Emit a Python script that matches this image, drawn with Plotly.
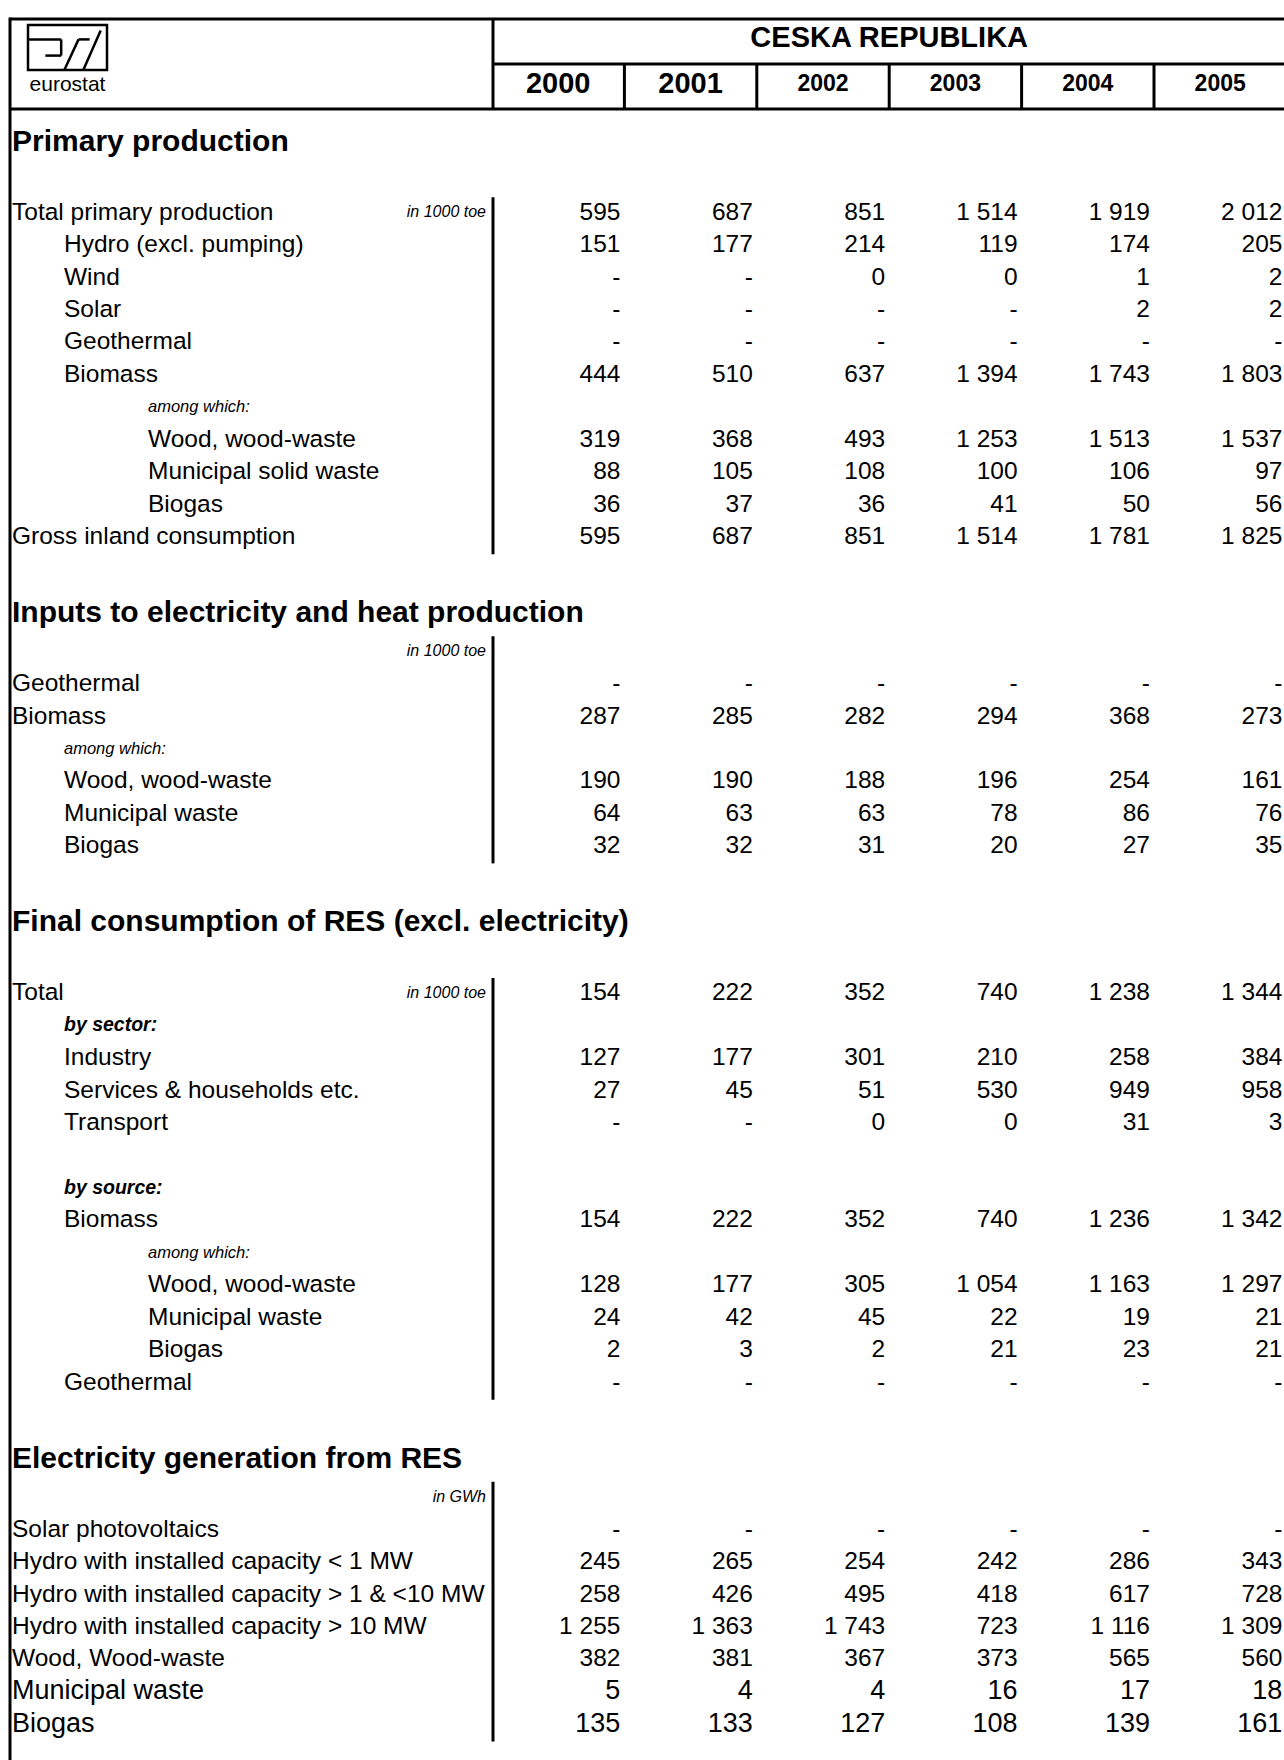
import plotly.graph_objects as go

# ------------------------------------------------------------------ data
COUNTRY = "CESKA REPUBLIKA"
YEARS = ["2000", "2001", "2002", "2003", "2004", "2005"]
LOGO_TEXT = "eurostat"

TITLE_PRIMARY = "Primary production"
TITLE_INPUTS = "Inputs to electricity and heat production"
TITLE_FINAL = "Final consumption of RES (excl. electricity)"
TITLE_ELEC = "Electricity generation from RES"
UNIT_TOE = "in 1000 toe"
UNIT_GWH = "in GWh"
AMONG = "among which:"
BY_SECTOR = "by sector:"
BY_SOURCE = "by source:"

NA = None  # shown as "-"

PRIMARY_LABELS = [
    "Total primary production", "Hydro (excl. pumping)", "Wind", "Solar",
    "Geothermal", "Biomass", AMONG, "Wood, wood-waste",
    "Municipal solid waste", "Biogas", "Gross inland consumption",
]
PRIMARY_VALUES = [
    [595, 687, 851, 1514, 1919, 2012],
    [151, 177, 214, 119, 174, 205],
    [NA, NA, 0, 0, 1, 2],
    [NA, NA, NA, NA, 2, 2],
    [NA, NA, NA, NA, NA, NA],
    [444, 510, 637, 1394, 1743, 1803],
    [],
    [319, 368, 493, 1253, 1513, 1537],
    [88, 105, 108, 100, 106, 97],
    [36, 37, 36, 41, 50, 56],
    [595, 687, 851, 1514, 1781, 1825],
]

INPUTS_LABELS = ["Geothermal", "Biomass", AMONG, "Wood, wood-waste",
                 "Municipal waste", "Biogas"]
INPUTS_VALUES = [
    [NA, NA, NA, NA, NA, NA],
    [287, 285, 282, 294, 368, 273],
    [],
    [190, 190, 188, 196, 254, 161],
    [64, 63, 63, 78, 86, 76],
    [32, 32, 31, 20, 27, 35],
]

FINAL_LABELS = [
    "Total", BY_SECTOR, "Industry", "Services & households etc.", "Transport",
    "", BY_SOURCE, "Biomass", AMONG, "Wood, wood-waste", "Municipal waste",
    "Biogas", "Geothermal",
]
FINAL_VALUES = [
    [154, 222, 352, 740, 1238, 1344],
    [],
    [127, 177, 301, 210, 258, 384],
    [27, 45, 51, 530, 949, 958],
    [NA, NA, 0, 0, 31, 3],
    [],
    [],
    [154, 222, 352, 740, 1236, 1342],
    [],
    [128, 177, 305, 1054, 1163, 1297],
    [24, 42, 45, 22, 19, 21],
    [2, 3, 2, 21, 23, 21],
    [NA, NA, NA, NA, NA, NA],
]

ELEC_LABELS = [
    "Solar photovoltaics", "Hydro with installed capacity < 1 MW",
    "Hydro with installed capacity > 1 & <10 MW",
    "Hydro with installed capacity > 10 MW", "Wood, Wood-waste",
    "Municipal waste", "Biogas",
]
ELEC_VALUES = [
    [NA, NA, NA, NA, NA, NA],
    [245, 265, 254, 242, 286, 343],
    [258, 426, 495, 418, 617, 728],
    [1255, 1363, 1743, 723, 1116, 1309],
    [382, 381, 367, 373, 565, 560],
    [5, 4, 4, 16, 17, 18],
    [135, 133, 127, 108, 139, 161],
]

# ------------------------------------------------------------------ layout / style
PRIMARY_INDENT = [0, 1, 1, 1, 1, 1, 2, 2, 2, 2, 0]
INPUTS_INDENT = [0, 0, 1, 1, 1, 1]
FINAL_INDENT = [0, 1, 1, 1, 1, 1, 1, 1, 2, 2, 2, 2, 1]
ELEC_INDENT = [0, 0, 0, 0, 0, 0, 0]
BODY = 24.5
ELEC_SIZES = [BODY, BODY, BODY, BODY, BODY, 27, 27]
TITLE_SIZE = 30

FONT = "Liberation Sans, Arial, Helvetica, sans-serif"
W, H = 1284, 1760
LEFT = 10
TOP = 19
HDR_MID = 64
HDR_BOT = 109
LABEL_END = 493
COL0 = 492
COL_W = 132.4
COL_EDGES = [COL0 + i * COL_W for i in range(len(YEARS) + 1)]
INDENT_X = [12, 64, 148]
ROW_H = 32.45
TITLE_H = 49.6
TITLE_TXT = 27.8          # title text centre below the title row top
FIRST_TOP = 143 - TITLE_TXT
LW = 3


def esc(s):
    return s.replace("&", "&amp;").replace("<", "&lt;").replace(">", "&gt;")


def fmt(v):
    return "-" if v is None else f"{v:,}".replace(",", " ")


rows = []


def add(kind, **kw):
    rows.append(dict(kind=kind, **kw))


add("title", label=TITLE_PRIMARY)
add("blank")
for i, (lab, vals, ind) in enumerate(zip(PRIMARY_LABELS, PRIMARY_VALUES, PRIMARY_INDENT)):
    add("data", label=lab, values=vals, indent=ind, size=BODY,
        unit=UNIT_TOE if i == 0 else None, group=1)
add("blank")
add("title", label=TITLE_INPUTS)
add("unit", label=UNIT_TOE, group=2)
for lab, vals, ind in zip(INPUTS_LABELS, INPUTS_VALUES, INPUTS_INDENT):
    add("data", label=lab, values=vals, indent=ind, size=BODY, unit=None, group=2)
add("blank")
add("title", label=TITLE_FINAL)
add("blank")
for i, (lab, vals, ind) in enumerate(zip(FINAL_LABELS, FINAL_VALUES, FINAL_INDENT)):
    add("data", label=lab, values=vals, indent=ind, size=BODY,
        unit=UNIT_TOE if i == 0 else None, group=3)
add("blank")
add("title", label=TITLE_ELEC)
add("unit", label=UNIT_GWH, group=4)
for lab, vals, ind, sz in zip(ELEC_LABELS, ELEC_VALUES, ELEC_INDENT, ELEC_SIZES):
    add("data", label=lab, values=vals, indent=ind, size=sz, unit=None, group=4)

cur = FIRST_TOP
for r in rows:
    if r["kind"] == "title":
        h = TITLE_H
        r["y"] = cur + TITLE_TXT
    else:
        h = ROW_H
        r["y"] = cur + h / 2
    r["top"], r["bot"] = cur, cur + h
    cur += h

# ------------------------------------------------------------------ text collections
lab_x, lab_y, lab_t, lab_s = [], [], [], []
val_x, val_y, val_t, val_s = [], [], [], []
unit_x, unit_y, unit_t = [], [], []
tit_x, tit_y, tit_t = [], [], []

for r in rows:
    if r["kind"] == "title":
        tit_x.append(INDENT_X[0]); tit_y.append(r["y"]); tit_t.append("<b>" + esc(r["label"]) + "</b>")
    elif r["kind"] == "unit":
        unit_x.append(LABEL_END - 7); unit_y.append(r["y"]); unit_t.append("<i>" + esc(r["label"]) + "</i>")
    elif r["kind"] == "data":
        lab = r["label"]
        if lab:
            if lab == AMONG:
                txt, sz = "<i>" + esc(lab) + "</i>", 16.5
            elif lab in (BY_SECTOR, BY_SOURCE):
                txt, sz = "<b><i>" + esc(lab) + "</i></b>", 19.5
            else:
                txt, sz = esc(lab), r["size"]
            lab_x.append(INDENT_X[r["indent"]]); lab_y.append(r["y"]); lab_t.append(txt); lab_s.append(sz)
        if r["unit"]:
            unit_x.append(LABEL_END - 7); unit_y.append(r["y"]); unit_t.append("<i>" + esc(r["unit"]) + "</i>")
        for j, v in enumerate(r["values"]):
            val_x.append(COL_EDGES[j + 1] - 4); val_y.append(r["y"]); val_t.append(fmt(v)); val_s.append(r["size"])

fig = go.Figure()


def text_trace(x, y, t, size, pos, color="black"):
    fig.add_trace(go.Scatter(
        x=x, y=y, text=t, mode="text", textposition=pos,
        textfont=dict(family=FONT, size=size, color=color),
        marker=dict(size=0), hoverinfo="skip", cliponaxis=False, showlegend=False,
    ))


text_trace(lab_x, lab_y, lab_t, lab_s, "middle right")
text_trace(val_x, val_y, val_t, val_s, "middle left")
text_trace(unit_x, unit_y, unit_t, 16, "middle left")
text_trace(tit_x, tit_y, tit_t, TITLE_SIZE, "middle right")

# header texts
text_trace([(COL_EDGES[0] + COL_EDGES[-1]) / 2], [(TOP + HDR_MID) / 2 - 2],
           ["<b>" + COUNTRY + "</b>"], 29, "middle center")
YEAR_SIZES = [29, 29, 23, 23, 23, 23]
text_trace([(COL_EDGES[i] + COL_EDGES[i + 1]) / 2 for i in range(len(YEARS))],
           [(HDR_MID + HDR_BOT) / 2 - 1] * len(YEARS),
           ["<b>" + y + "</b>" for y in YEARS], YEAR_SIZES, "middle center")

# logo
LX0, LX1, LY0, LY1 = 28, 107, 25, 70
LWD, LHT = LX1 - LX0, LY1 - LY0
text_trace([(LX0 + LX1) / 2], [86], [LOGO_TEXT], 21, "middle center")

shapes = []


def line(x0, y0, x1, y1, w=LW):
    shapes.append(dict(type="line", xref="x", yref="y", x0=x0, y0=y0, x1=x1, y1=y1,
                       line=dict(color="black", width=w)))


# frame
line(LEFT, TOP, W + 5, TOP)
line(LEFT, TOP - 1.5, LEFT, H + 5)
line(LABEL_END, HDR_MID, W + 5, HDR_MID)
line(LEFT, HDR_BOT, W + 5, HDR_BOT)
line(LABEL_END, TOP, LABEL_END, HDR_BOT)
for xe in COL_EDGES[1:-1]:
    line(xe, HDR_MID, xe, HDR_BOT)

# logo drawing
shapes.append(dict(type="rect", xref="x", yref="y", x0=LX0, x1=LX1, y0=LY0, y1=LY1,
                   line=dict(color="black", width=2.5)))
line(LX0, LY0 + 0.32 * LHT, LX0 + 0.42 * LWD, LY0 + 0.32 * LHT, 2.5)
line(LX0 + 0.42 * LWD, LY0 + 0.32 * LHT, LX0 + 0.42 * LWD, LY0 + 0.68 * LHT, 2.5)
line(LX0 + 0.22 * LWD, LY0 + 0.68 * LHT, LX0 + 0.42 * LWD, LY0 + 0.68 * LHT, 2.5)
line(LX0 + 0.46 * LWD, LY1, LX0 + 0.64 * LWD, LY0 + 0.32 * LHT, 2.5)
line(LX0 + 0.64 * LWD, LY0 + 0.32 * LHT, LX0 + 0.78 * LWD, LY0 + 0.32 * LHT, 2.5)
line(LX0 + 0.70 * LWD, LY1, LX0 + 0.92 * LWD, LY0 + 0.12 * LHT, 2.5)

# section separator bars
for g in (1, 2, 3, 4):
    grp = [r for r in rows if r.get("group") == g]
    line(LABEL_END, grp[0]["top"], LABEL_END, grp[-1]["bot"])

fig.update_layout(
    width=W, height=H, margin=dict(l=0, r=0, t=0, b=0),
    paper_bgcolor="white", plot_bgcolor="white", showlegend=False,
    xaxis=dict(range=[0, W], visible=False, fixedrange=True),
    yaxis=dict(range=[H, 0], visible=False, fixedrange=True),
    shapes=shapes,
)
fig.write_html("out.html", config={"displayModeBar": False},
               post_script="document.body.style.margin='0px';")
